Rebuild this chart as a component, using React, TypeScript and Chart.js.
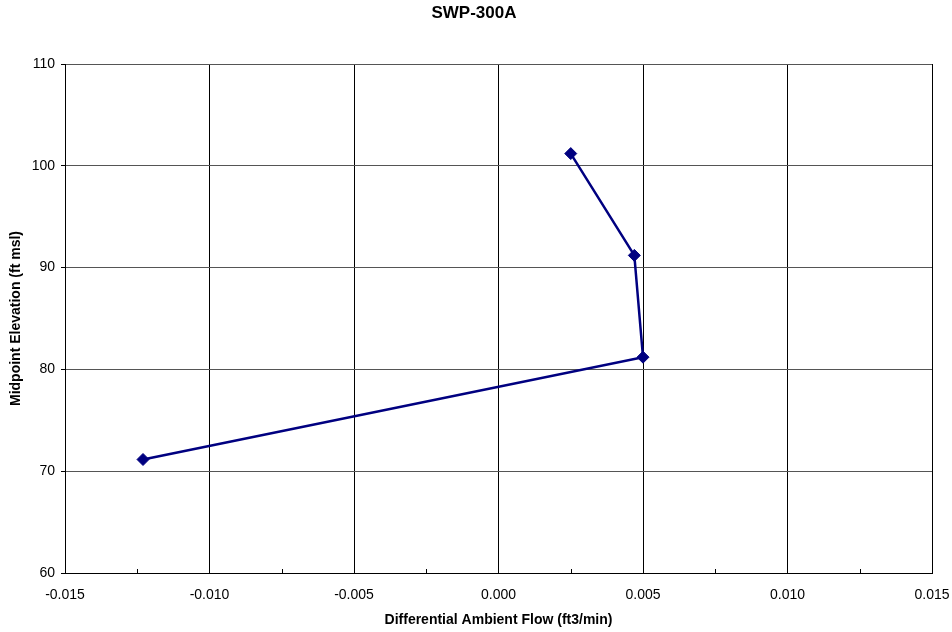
import React, { useEffect, useRef } from "react";
import { Chart, registerables } from "chart.js";

Chart.register(...registerables);

const chartTitle = "SWP-300A";
const xAxisTitle = "Differential Ambient Flow (ft3/min)";
const yAxisTitle = "Midpoint Elevation (ft msl)";
const flowValues = [0.0025, 0.0047, 0.005, -0.0123];
const elevationValues = [101.2, 91.2, 81.2, 71.15];
const xMin = -0.015;
const xMax = 0.015;
const xStep = 0.005;
const xMinorTicks = [-0.0125, -0.0075, -0.0025, 0.0025, 0.0075, 0.0125];
const yMin = 60;
const yMax = 110;
const yStep = 10;

const FONT = "'Liberation Sans', Arial, sans-serif";

const minorTickPlugin = {
  id: "minorTicks",
  afterDraw(chart: any) {
    const xs = chart.scales.x;
    const ctx = chart.ctx;
    const bottom = chart.chartArea.bottom;
    ctx.save();
    ctx.strokeStyle = "#000";
    ctx.lineWidth = 1;
    ctx.beginPath();
    for (const v of xMinorTicks) {
      const px = Math.round(xs.getPixelForValue(v)) + 0.5;
      ctx.moveTo(px, bottom);
      ctx.lineTo(px, bottom - 4);
    }
    ctx.stroke();
    ctx.restore();
  },
};

export default function App() {
  const ref = useRef<HTMLCanvasElement | null>(null);
  useEffect(() => {
    if (!ref.current) return;
    const chart = new Chart(ref.current, {
      type: "line",
      data: {
        datasets: [
          {
            data: flowValues.map((x, i) => ({ x, y: elevationValues[i] })),
            borderColor: "#000080",
            backgroundColor: "#000080",
            borderWidth: 2.5,
            pointStyle: "rectRot",
            pointRadius: 6,
            pointBorderWidth: 1,
            pointBackgroundColor: "#000080",
            pointBorderColor: "#000080",
            tension: 0,
            fill: false,
          },
        ],
      },
      options: {
        responsive: false,
        animation: false,
        layout: { padding: { left: 16, right: 20, top: 0, bottom: 0 } },
        plugins: {
          legend: { display: false },
          tooltip: { enabled: false },
          title: {
            display: true,
            text: chartTitle,
            color: "#000",
            font: { family: FONT, size: 17, weight: "bold" },
            padding: { top: 3, bottom: 40.6 },
          },
        },
        scales: {
          x: {
            type: "linear",
            min: xMin,
            max: xMax,
            afterFit(scale: any) {
              scale.height = 59;
              scale.paddingLeft = 0;
              scale.paddingRight = 0;
            },
            ticks: {
              stepSize: xStep,
              color: "#000",
              font: { family: FONT, size: 14 },
              padding: 14,
              maxRotation: 0,
              autoSkip: false,
              callback: (v: any) => {
                const n = Number(v);
                return (Math.abs(n) < 1e-9 ? 0 : n).toFixed(3);
              },
            },
            grid: { color: "#000", lineWidth: 1, drawTicks: false },
            border: { color: "#000", width: 1 },
            title: {
              display: true,
              text: xAxisTitle,
              color: "#000",
              font: { family: FONT, size: 14, weight: "bold" },
              padding: { top: 0, bottom: 3 },
            },
          },
          y: {
            type: "linear",
            min: yMin,
            max: yMax,
            afterFit(scale: any) {
              scale.width = 49;
              scale.paddingTop = 0;
              scale.paddingBottom = 0;
            },
            ticks: {
              stepSize: yStep,
              color: "#000",
              font: { family: FONT, size: 14 },
              padding: 6,
            },
            grid: { color: "#555", lineWidth: 1, tickLength: 4, tickColor: "#000" },
            border: { color: "#000", width: 1 },
            title: {
              display: true,
              text: yAxisTitle,
              color: "#000",
              font: { family: FONT, size: 14, weight: "bold" },
              padding: { top: -8, bottom: 0 },
            },
          },
        },
      },
      plugins: [minorTickPlugin],
    } as any);
    return () => chart.destroy();
  }, []);
  return (
    <div style={{ position: "absolute", left: 0, top: 0, width: 952, height: 632, background: "#fff" }}>
      <canvas ref={ref} width={952} height={632} style={{ display: "block" }} />
    </div>
  );
}
